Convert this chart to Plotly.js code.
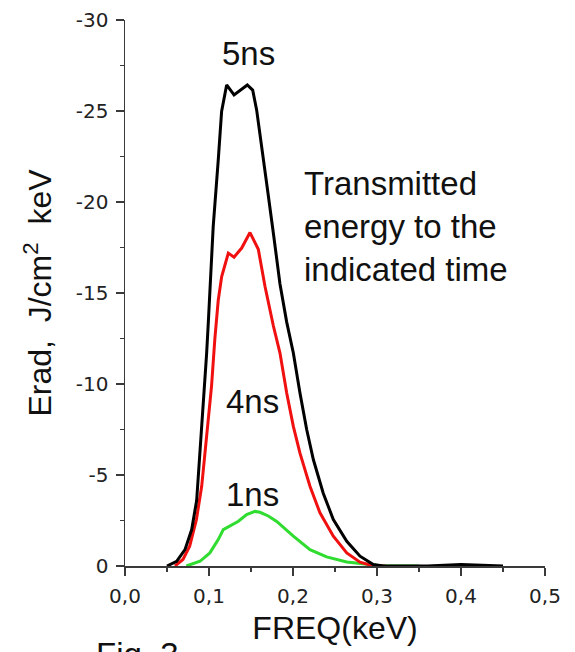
<!DOCTYPE html>
<html>
<head>
<meta charset="utf-8">
<script src="https://cdn.plot.ly/plotly-3.0.1.min.js"></script>
<style>html,body{margin:0;padding:0;background:#fff;}#chart{width:575px;height:652px;}</style>
</head>
<body>
<div id="chart"></div>
<script>
// 5 ns (black)
const freq5ns = [0.05, 0.0615, 0.0714, 0.0794, 0.0853, 0.0893, 0.0933, 0.0972, 0.0992, 0.105, 0.111, 0.115, 0.121, 0.1298, 0.1456, 0.152, 0.1567, 0.1607, 0.1687, 0.1766, 0.1845, 0.1925, 0.2004, 0.2083, 0.2163, 0.2242, 0.236, 0.248, 0.264, 0.2798, 0.2956, 0.3075, 0.36, 0.40, 0.45];
const erad5ns = [0, -0.26, -0.9, -2.0, -3.6, -6.2, -8.96, -11.7, -13.4, -18.65, -22.3, -24.97, -26.43, -25.88, -26.43, -26.15, -25.06, -23.8, -21.0, -18.3, -15.5, -13.4, -11.7, -9.5, -7.5, -5.85, -4.0, -2.55, -1.36, -0.54, -0.08, 0, 0, -0.08, 0];
// 4 ns (red)
const freq4ns = [0.0595, 0.069, 0.077, 0.085, 0.0913, 0.097, 0.103, 0.107, 0.111, 0.1151, 0.123, 0.1298, 0.1389, 0.1488, 0.1587, 0.1667, 0.1766, 0.1845, 0.1925, 0.2004, 0.2083, 0.2202, 0.2321, 0.248, 0.264, 0.2798, 0.2956, 0.31];
const erad4ns = [0, -0.36, -1.09, -2.55, -4.38, -7.1, -9.87, -12.5, -14.6, -15.9, -17.19, -16.97, -17.47, -18.32, -17.4, -15.36, -13.2, -11.7, -9.5, -7.67, -6.2, -4.38, -2.92, -1.64, -0.72, -0.21, 0, 0];
// 1 ns (green)
const freq1ns = [0.073, 0.0893, 0.101, 0.111, 0.117, 0.127, 0.135, 0.1448, 0.1548, 0.1607, 0.1706, 0.1806, 0.2004, 0.2202, 0.240, 0.264, 0.2917, 0.3075, 0.35];
const erad1ns = [0, -0.26, -0.72, -1.45, -2.0, -2.28, -2.46, -2.83, -3.0, -2.95, -2.75, -2.45, -1.64, -0.9, -0.5, -0.22, -0.07, 0, 0];

const yTickVals = [0, -5, -10, -15, -20, -25, -30];
const yTickText = ['0', '-5', '-10', '-15', '-20', '-25', '-30'];
const xTickVals = [0, 0.1, 0.2, 0.3, 0.4, 0.5];
const xTickText = ['0,0', '0,1', '0,2', '0,3', '0,4', '0,5'];

const seriesNames = ['5ns', '4ns', '1ns'];
const seriesColors = ['#000000', '#f01010', '#2fdc2f'];

const traces = [
  {x: freq1ns, y: erad1ns, name: seriesNames[2], line: {color: seriesColors[2], width: 3}},
  {x: freq4ns, y: erad4ns, name: seriesNames[1], line: {color: seriesColors[1], width: 3}},
  {x: freq5ns, y: erad5ns, name: seriesNames[0], line: {color: seriesColors[0], width: 3}}
].map(t => Object.assign({type: 'scatter', mode: 'lines', hoverinfo: 'skip'}, t));

const axisCol = '#3a3a3a';
const tickFont = {family: 'DejaVu Sans, sans-serif', size: 20, color: '#222'};
const textFont = {family: 'Liberation Sans, Arial, sans-serif', size: 33, color: '#111'};
const NB = '\u00a0';

const layout = {
  width: 575, height: 652,
  margin: {l: 125, r: 30, t: 20, b: 86, pad: 0},
  paper_bgcolor: '#fff', plot_bgcolor: '#fff',
  showlegend: false,
  xaxis: {
    range: [0, 0.5], tickmode: 'array', tickvals: xTickVals, ticktext: xTickText,
    ticks: 'outside', ticklen: 8, tickwidth: 1.5, tickcolor: axisCol,
    showline: true, linecolor: axisCol, linewidth: 1.5, showgrid: false, zeroline: false,
    tickfont: tickFont, ticklabelstandoff: 3,
    minor: {dtick: 0.05, tick0: 0, ticks: 'outside', ticklen: 4, tickwidth: 1.5, tickcolor: axisCol, showgrid: false},
    title: {text: 'FREQ(keV)', font: Object.assign({}, textFont, {size: 32}), standoff: 10}
  },
  yaxis: {
    range: [0, -30], tickmode: 'array', tickvals: yTickVals, ticktext: yTickText,
    ticks: 'outside', ticklen: 8, tickwidth: 1.5, tickcolor: axisCol,
    showline: true, linecolor: axisCol, linewidth: 1.5, showgrid: false, zeroline: false,
    tickfont: tickFont, ticklabelstandoff: 3,
    minor: {dtick: 2.5, tick0: 0, ticks: 'outside', ticklen: 4, tickwidth: 1.5, tickcolor: axisCol, showgrid: false},
    title: {text: 'Erad,' + NB + NB + 'J/cm<sup>2</sup>' + NB + NB + 'keV' + NB + NB + NB + NB + NB, font: Object.assign({}, textFont, {size: 32}), standoff: 14}
  },
  annotations: [
    {text: '5ns', xref: 'paper', yref: 'paper', x: (248 - 125) / 420, y: (566 - 53) / 546, xanchor: 'center', yanchor: 'middle', showarrow: false, font: textFont},
    {text: '4ns', xref: 'paper', yref: 'paper', x: (252.5 - 125) / 420, y: (566 - 401) / 546, xanchor: 'center', yanchor: 'middle', showarrow: false, font: textFont},
    {text: '1ns', xref: 'paper', yref: 'paper', x: (252 - 125) / 420, y: (566 - 494) / 546, xanchor: 'center', yanchor: 'middle', showarrow: false, font: textFont},
    {text: 'Transmitted<br>energy to the<br>indicated time', xref: 'paper', yref: 'paper', x: (302 - 125) / 420, y: (566 - 163) / 546, xanchor: 'left', yanchor: 'top', align: 'left', showarrow: false, font: textFont},
    {text: 'Fig.' + NB + '3', xref: 'paper', yref: 'paper', x: (94 - 125) / 420, y: (566 - 634) / 546, xanchor: 'left', yanchor: 'top', showarrow: false, font: textFont}
  ]
};

Plotly.newPlot('chart', traces, layout, {displayModeBar: false, staticPlot: true});
</script>
</body>
</html>
